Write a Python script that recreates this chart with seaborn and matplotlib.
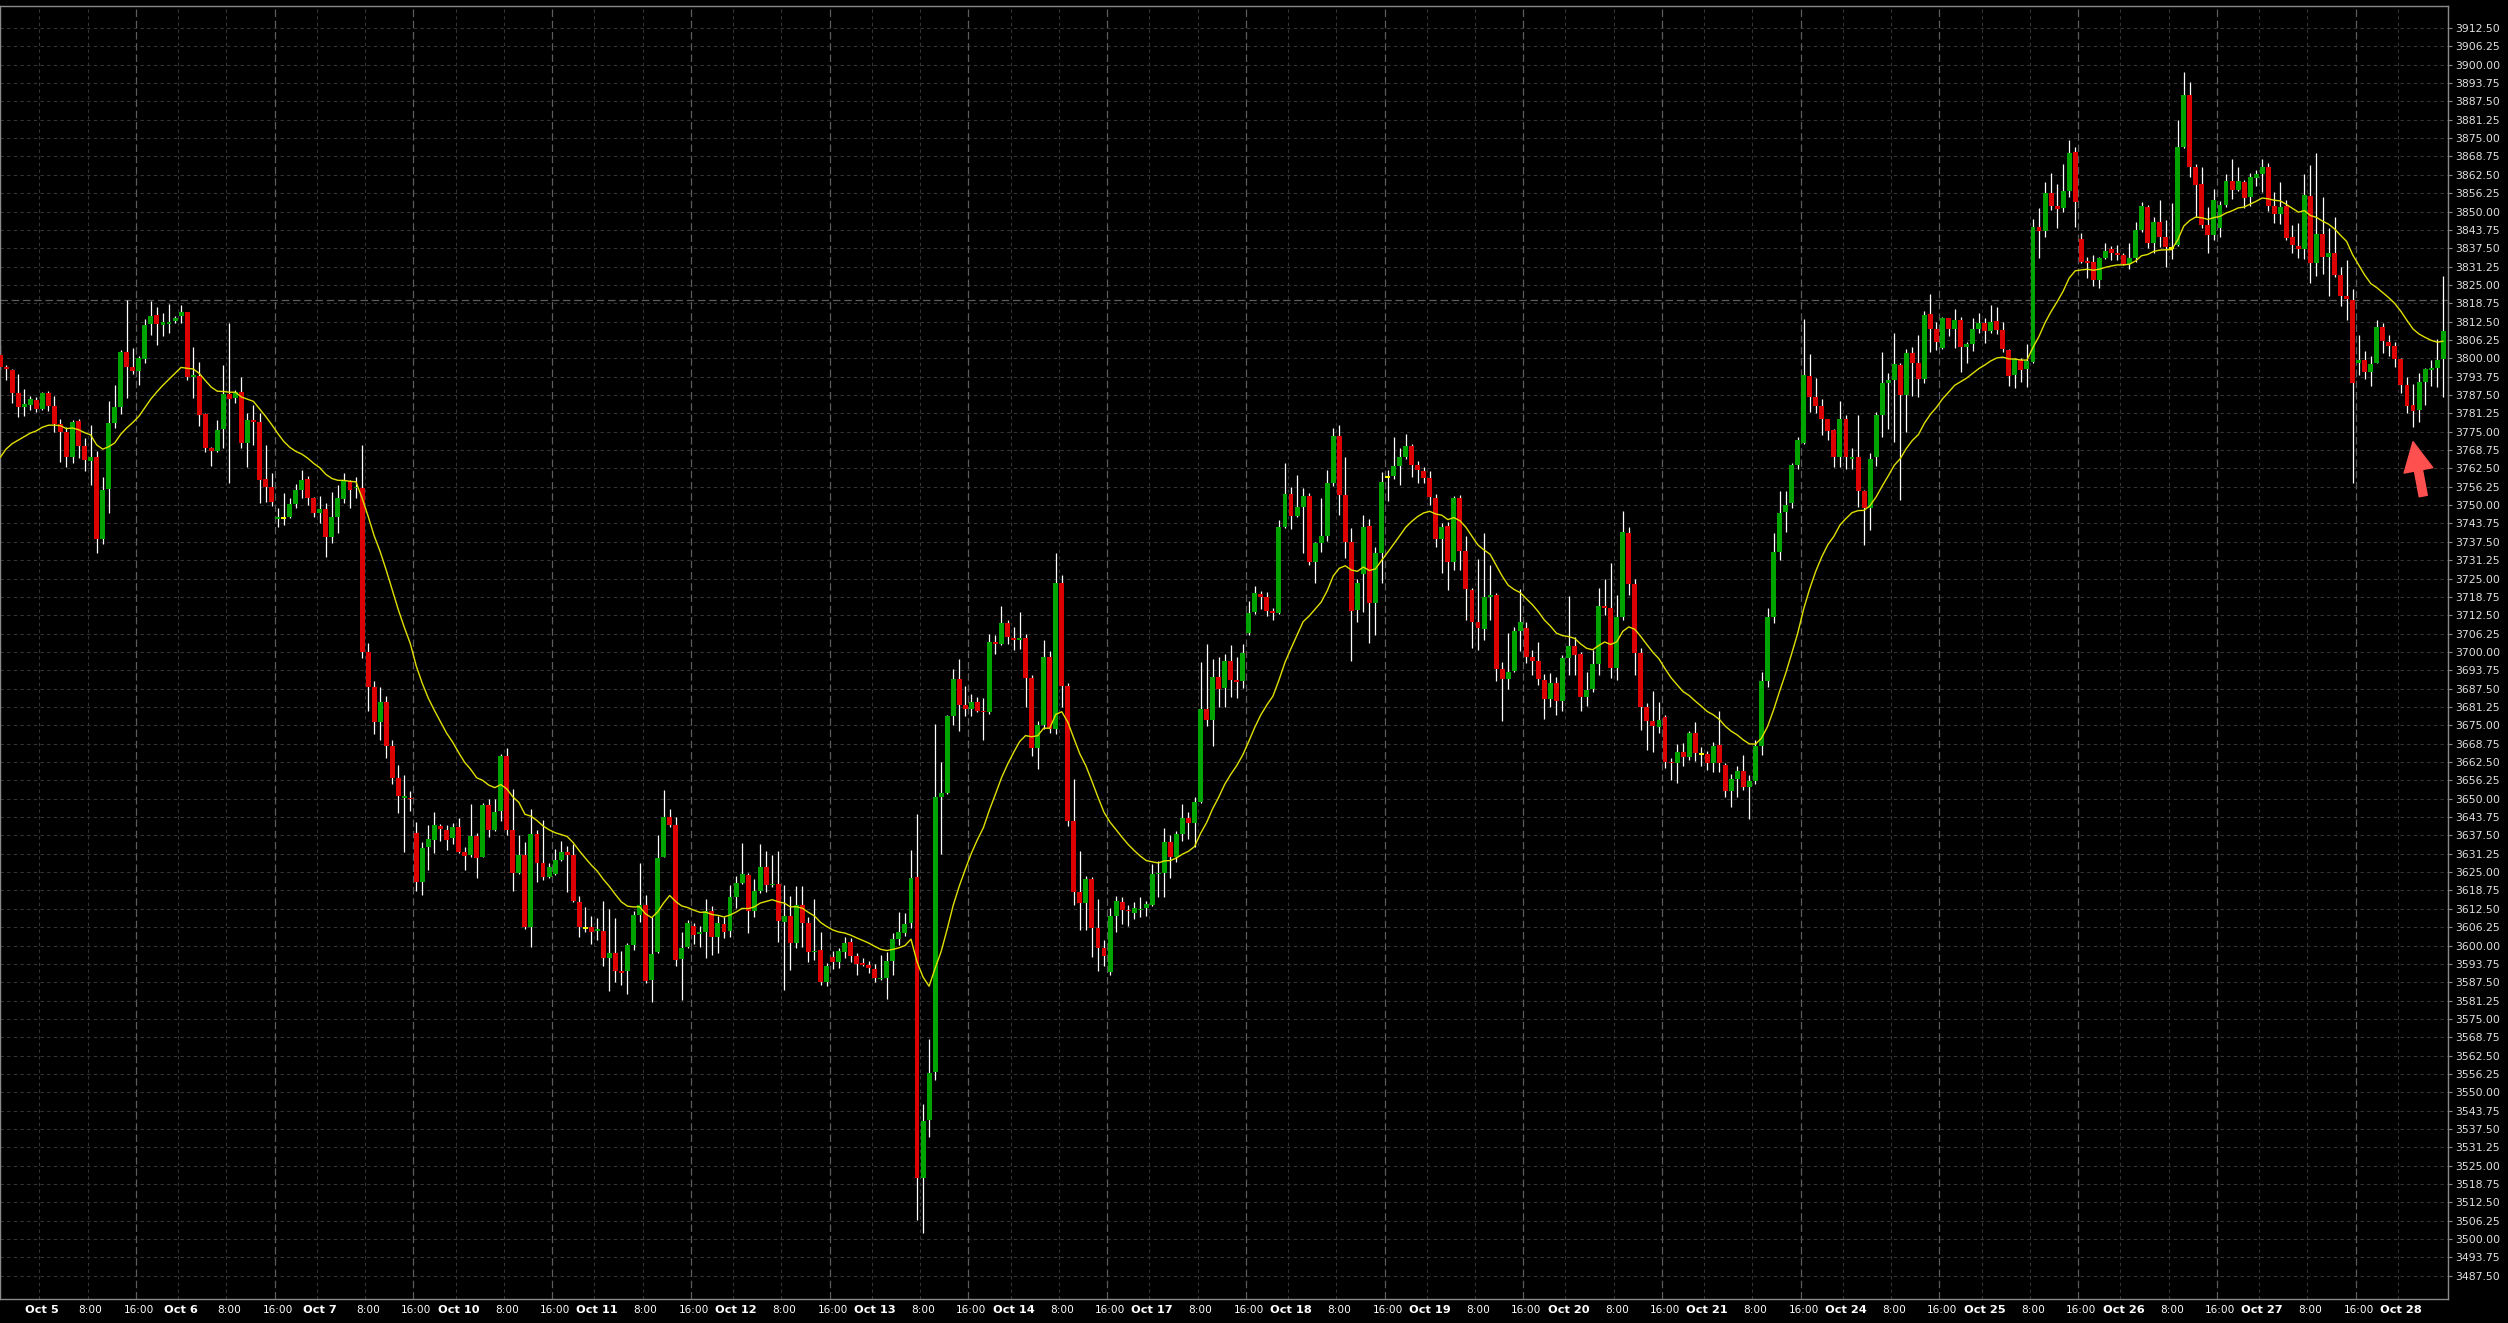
import numpy as np
import pandas as pd
import matplotlib
matplotlib.use("Agg")
import matplotlib.pyplot as plt
import seaborn as sns

# hourly bars, Oct 4 (evening) .. Oct 28 07:00
days = ["Oct 5", "Oct 6", "Oct 7", "Oct 10", "Oct 11", "Oct 12", "Oct 13", "Oct 14", "Oct 17",
        "Oct 18", "Oct 19", "Oct 20", "Oct 21", "Oct 24", "Oct 25", "Oct 26", "Oct 27", "Oct 28"]
first_midnight_bar = 7
bars_per_day = 23

opens = [
    3801.1, 3796.9, 3796.0, 3788.3, 3783.5, 3784.1, 3785.8, 3782.7, 3788.2, 3783.8,
    3777.6, 3775.0, 3766.5, 3778.6, 3770.2, 3765.1, 3766.5, 3738.3, 3755.6, 3777.8,
    3783.5, 3802.3, 3796.9, 3795.7, 3799.8, 3811.6, 3814.7, 3811.5, 3811.8, 3812.8,
    3814.5, 3815.8, 3793.6, 3793.9, 3781.0, 3769.6, 3768.5, 3775.9, 3787.8, 3786.4,
    3788.4, 3771.0, 3779.0, 3778.3, 3758.8, 3756.3, 3745.4, 3745.6, 3745.8, 3750.4,
    3755.1, 3758.9, 3752.5, 3747.2, 3748.7, 3739.2, 3745.8, 3752.1, 3758.2, 3755.8,
    3755.8, 3700.0, 3688.0, 3676.0, 3683.0, 3668.0, 3657.0, 3650.4, 3650.4, 3638.4,
    3621.6, 3633.7, 3636.1, 3640.6, 3639.4, 3636.5, 3640.2, 3631.9, 3630.9, 3637.4,
    3630.3, 3647.7, 3639.4, 3645.8, 3664.7, 3639.4, 3624.7, 3630.9, 3606.3, 3638.0,
    3628.2, 3623.2, 3624.3, 3629.1, 3631.8, 3630.9, 3614.8, 3606.1, 3606.3, 3605.1,
    3604.9, 3595.8, 3597.3, 3591.2, 3591.2, 3600.1, 3610.4, 3613.9, 3588.1, 3597.8,
    3630.0, 3643.9, 3641.1, 3595.3, 3599.5, 3606.5, 3604.0, 3604.5, 3611.9, 3603.0,
    3607.3, 3604.9, 3616.4, 3621.2, 3624.1, 3611.9, 3618.5, 3626.9, 3620.6, 3621.0,
    3608.0, 3610.2, 3600.9, 3613.9, 3607.7, 3597.8, 3598.6, 3587.5, 3596.2, 3594.3,
    3597.8, 3601.3, 3596.5, 3594.0, 3593.5, 3592.1, 3588.5, 3589.0, 3594.6, 3602.2,
    3604.2, 3607.6, 3623.4, 3520.7, 3540.6, 3557.0, 3650.7, 3651.9, 3678.2, 3690.8,
    3682.0, 3680.5, 3683.0, 3679.8, 3679.4, 3703.4, 3702.8, 3709.9, 3704.9, 3704.0,
    3704.6, 3691.2, 3667.2, 3675.0, 3698.3, 3673.8, 3723.5, 3688.3, 3642.3, 3618.3,
    3614.5, 3622.7, 3606.1, 3599.2, 3591.0, 3610.1, 3614.8, 3612.0, 3611.1, 3612.1,
    3612.7, 3613.9, 3624.3, 3624.6, 3635.3, 3630.3, 3638.1, 3643.5, 3641.6, 3648.8,
    3680.7, 3676.7, 3691.4, 3687.6, 3696.8, 3690.5, 3690.1, 3706.5, 3713.5, 3719.8,
    3718.8, 3714.1, 3713.2, 3742.4, 3753.8, 3746.2, 3749.2, 3753.1, 3730.7, 3737.0,
    3739.5, 3757.6, 3773.7, 3753.4, 3737.5, 3714.3, 3726.5, 3742.9, 3716.6, 3733.8,
    3759.7, 3759.9, 3763.4, 3766.5, 3770.1, 3763.7, 3761.7, 3759.1, 3752.3, 3738.4,
    3742.9, 3730.7, 3752.3, 3734.5, 3721.1, 3710.3, 3707.8, 3718.8, 3719.4, 3694.1,
    3690.8, 3693.6, 3707.2, 3708.0, 3698.2, 3697.0, 3690.4, 3683.8, 3689.3, 3683.4,
    3697.8, 3702.0, 3699.3, 3684.8, 3687.3, 3695.9, 3715.6, 3715.1, 3694.4, 3711.8,
    3740.6, 3723.1, 3699.7, 3681.4, 3676.6, 3674.5, 3677.9, 3662.6, 3662.3, 3666.0,
    3664.3, 3672.5, 3665.1, 3665.2, 3662.3, 3668.3, 3661.5, 3652.6, 3656.6, 3659.5,
    3653.9, 3656.0, 3668.0, 3690.0, 3712.0, 3734.1, 3747.8, 3750.6, 3763.7, 3771.3,
    3794.0, 3786.7, 3783.7, 3779.2, 3775.6, 3766.5, 3779.2, 3765.6, 3766.3, 3754.9,
    3748.9, 3766.3, 3780.7, 3791.5, 3792.6, 3797.7, 3787.5, 3801.9, 3798.3, 3792.8,
    3815.1, 3809.9, 3803.4, 3813.6, 3809.9, 3813.0, 3804.0, 3804.9, 3809.9, 3811.9,
    3809.4, 3812.7, 3809.6, 3802.8, 3794.3, 3799.4, 3796.2, 3798.9, 3844.6, 3843.5,
    3856.2, 3851.9, 3851.3, 3857.0, 3870.2, 3840.8, 3833.1, 3832.9, 3826.7, 3834.0,
    3837.1, 3836.0, 3835.2, 3832.1, 3834.0, 3843.7, 3851.6, 3839.4, 3846.3, 3841.2,
    3837.5, 3838.6, 3871.9, 3889.7, 3865.0, 3859.4, 3845.4, 3842.0, 3844.3, 3852.2,
    3860.5, 3857.3, 3860.2, 3854.8, 3861.5, 3862.8, 3865.0, 3851.9, 3849.2, 3851.9,
    3841.2, 3838.2, 3837.1, 3855.3, 3832.4, 3842.3, 3834.4, 3836.0, 3828.4, 3821.2,
    3819.9, 3798.5, 3799.4, 3795.4, 3798.5, 3810.8, 3805.7, 3804.2, 3799.6, 3790.9,
    3784.1, 3782.4, 3792.0, 3796.0, 3796.6, 3799.8,
]

highs = [
    3804.5, 3797.7, 3796.2, 3794.6, 3789.4, 3787.2, 3786.7, 3788.6, 3788.9, 3787.2,
    3779.2, 3776.7, 3779.0, 3779.2, 3772.7, 3777.3, 3768.5, 3759.5, 3785.6, 3790.9,
    3802.8, 3819.9, 3803.4, 3800.8, 3813.4, 3819.5, 3817.6, 3815.3, 3818.5, 3814.4,
    3818.2, 3815.8, 3804.0, 3798.9, 3781.5, 3769.9, 3779.0, 3797.7, 3811.9, 3789.2,
    3793.7, 3781.3, 3784.1, 3781.3, 3770.4, 3761.0, 3748.9, 3754.0, 3752.3, 3757.2,
    3761.9, 3760.0, 3752.9, 3753.1, 3750.6, 3754.5, 3756.8, 3760.8, 3758.5, 3759.7,
    3770.5, 3703.0, 3690.0, 3688.0, 3685.0, 3670.0, 3661.4, 3658.2, 3652.7, 3642.1,
    3635.3, 3640.9, 3645.4, 3641.5, 3641.1, 3641.8, 3643.3, 3633.4, 3648.3, 3638.4,
    3648.7, 3649.8, 3649.8, 3665.1, 3667.3, 3653.3, 3637.5, 3635.3, 3646.5, 3639.4,
    3642.7, 3628.2, 3632.8, 3635.5, 3634.0, 3634.7, 3616.9, 3613.2, 3610.1, 3609.2,
    3615.0, 3612.6, 3609.2, 3598.0, 3600.8, 3611.7, 3628.1, 3617.3, 3609.6, 3637.8,
    3652.9, 3646.4, 3643.7, 3604.5, 3608.6, 3607.7, 3606.5, 3615.8, 3613.6, 3610.2,
    3609.6, 3620.6, 3623.8, 3634.9, 3624.7, 3622.6, 3634.7, 3632.2, 3630.9, 3632.2,
    3620.6, 3616.9, 3620.4, 3620.4, 3609.8, 3615.7, 3604.5, 3594.1, 3598.0, 3599.3,
    3603.0, 3602.6, 3597.5, 3595.6, 3594.8, 3593.8, 3596.9, 3597.9, 3604.1, 3611.4,
    3611.1, 3632.6, 3644.8, 3546.0, 3568.0, 3675.4, 3662.4, 3678.5, 3694.3, 3697.7,
    3688.5, 3685.7, 3684.7, 3684.2, 3706.2, 3705.9, 3715.7, 3710.9, 3708.4, 3713.7,
    3706.2, 3692.0, 3676.3, 3704.0, 3700.2, 3733.6, 3726.3, 3689.3, 3656.8, 3632.2,
    3623.7, 3623.4, 3615.8, 3601.9, 3612.9, 3616.7, 3616.4, 3613.9, 3614.9, 3616.4,
    3615.2, 3627.8, 3628.8, 3640.0, 3637.6, 3639.1, 3648.3, 3645.4, 3650.5, 3696.5,
    3702.8, 3697.7, 3698.3, 3699.3, 3702.5, 3698.3, 3702.8, 3717.2, 3722.3, 3720.8,
    3720.4, 3715.0, 3745.0, 3764.5, 3756.3, 3760.1, 3755.7, 3754.2, 3737.6, 3752.3,
    3761.9, 3776.2, 3777.3, 3766.5, 3742.1, 3724.7, 3746.6, 3745.2, 3735.8, 3761.4,
    3762.0, 3773.1, 3769.3, 3774.2, 3770.8, 3765.1, 3763.1, 3761.7, 3753.8, 3743.8,
    3744.4, 3753.1, 3753.4, 3739.5, 3721.6, 3731.5, 3740.6, 3729.6, 3720.2, 3696.7,
    3706.3, 3708.6, 3721.3, 3710.3, 3700.7, 3703.5, 3692.5, 3692.7, 3691.6, 3698.9,
    3719.0, 3705.0, 3700.1, 3693.3, 3700.7, 3721.7, 3724.9, 3730.2, 3719.4, 3748.1,
    3742.7, 3724.7, 3701.2, 3682.5, 3686.8, 3683.1, 3678.5, 3663.8, 3668.6, 3669.1,
    3673.2, 3676.2, 3667.5, 3666.4, 3669.4, 3680.0, 3662.3, 3658.4, 3661.1, 3664.9,
    3658.0, 3670.0, 3693.0, 3715.0, 3740.4, 3754.9, 3754.9, 3764.2, 3773.3, 3813.3,
    3801.5, 3793.2, 3786.0, 3779.2, 3775.8, 3785.6, 3780.7, 3769.3, 3780.7, 3755.1,
    3767.6, 3781.8, 3802.3, 3794.9, 3808.5, 3798.5, 3803.1, 3803.7, 3807.9, 3816.2,
    3821.9, 3812.5, 3814.2, 3813.9, 3816.7, 3814.2, 3805.7, 3813.9, 3815.3, 3813.9,
    3818.2, 3817.4, 3812.5, 3803.1, 3800.0, 3800.0, 3804.9, 3847.3, 3851.1, 3860.2,
    3863.2, 3859.4, 3866.2, 3874.4, 3871.9, 3842.6, 3834.6, 3835.2, 3834.6, 3839.4,
    3838.2, 3838.6, 3836.0, 3839.2, 3846.5, 3853.4, 3852.2, 3848.2, 3853.9, 3847.1,
    3852.8, 3881.2, 3897.6, 3894.2, 3866.2, 3865.0, 3851.6, 3857.5, 3853.7, 3862.8,
    3867.8, 3865.0, 3860.9, 3863.0, 3864.1, 3867.8, 3866.6, 3856.8, 3860.2, 3853.9,
    3845.4, 3846.2, 3862.8, 3865.8, 3870.0, 3855.1, 3844.3, 3848.2, 3831.2, 3833.5,
    3823.5, 3807.9, 3802.5, 3800.8, 3813.0, 3811.9, 3807.9, 3805.7, 3800.0, 3793.7,
    3791.2, 3795.1, 3796.6, 3799.4, 3806.5, 3828.0,
]

lows = [
    3796.0, 3792.6, 3784.9, 3780.1, 3780.3, 3782.4, 3781.8, 3782.4, 3782.2, 3775.0,
    3764.8, 3763.1, 3764.2, 3765.9, 3761.7, 3756.8, 3733.8, 3736.8, 3747.2, 3776.1,
    3781.0, 3786.4, 3794.7, 3790.9, 3798.3, 3807.9, 3804.5, 3807.6, 3808.5, 3811.9,
    3811.9, 3792.6, 3786.6, 3777.0, 3768.2, 3763.4, 3768.2, 3769.6, 3757.6, 3784.7,
    3769.3, 3763.1, 3770.5, 3750.6, 3751.2, 3749.7, 3742.4, 3743.2, 3745.5, 3748.9,
    3752.3, 3750.0, 3745.8, 3743.8, 3732.2, 3737.0, 3740.6, 3750.8, 3749.1, 3752.3,
    3698.0, 3680.0, 3672.0, 3670.0, 3664.0, 3655.0, 3645.2, 3631.8, 3645.8, 3618.5,
    3617.3, 3625.7, 3631.6, 3635.6, 3632.5, 3634.7, 3631.6, 3625.7, 3630.1, 3623.1,
    3630.1, 3637.1, 3639.0, 3642.5, 3637.8, 3618.5, 3624.5, 3605.5, 3599.5, 3621.6,
    3622.2, 3622.9, 3624.1, 3628.8, 3618.3, 3614.8, 3603.0, 3604.6, 3600.5, 3601.8,
    3593.1, 3584.4, 3587.5, 3586.6, 3583.4, 3598.6, 3608.0, 3587.1, 3580.9, 3597.4,
    3630.1, 3640.3, 3593.1, 3581.3, 3599.3, 3600.5, 3599.5, 3595.8, 3596.8, 3597.4,
    3602.7, 3603.0, 3612.9, 3621.0, 3604.2, 3609.8, 3617.9, 3618.3, 3619.8, 3601.1,
    3585.0, 3591.8, 3599.3, 3599.5, 3594.3, 3594.9, 3586.6, 3586.2, 3592.1, 3592.5,
    3595.8, 3594.4, 3590.0, 3593.1, 3590.6, 3587.7, 3588.1, 3581.8, 3590.0, 3600.1,
    3603.2, 3606.1, 3506.5, 3502.0, 3534.9, 3554.2, 3631.3, 3651.5, 3675.0, 3672.9,
    3678.2, 3678.2, 3679.4, 3670.0, 3678.8, 3699.4, 3702.4, 3702.8, 3700.6, 3700.9,
    3681.3, 3664.6, 3660.2, 3673.8, 3672.5, 3672.1, 3681.3, 3640.6, 3613.9, 3605.4,
    3605.4, 3596.0, 3591.2, 3593.1, 3590.0, 3604.5, 3607.4, 3606.7, 3608.9, 3609.8,
    3609.9, 3613.3, 3616.4, 3616.4, 3623.0, 3628.4, 3635.7, 3636.3, 3633.4, 3648.6,
    3674.7, 3668.1, 3681.3, 3681.3, 3684.7, 3684.2, 3687.6, 3705.9, 3712.8, 3714.5,
    3712.2, 3710.7, 3712.8, 3742.2, 3741.8, 3746.0, 3733.6, 3729.6, 3723.4, 3734.1,
    3737.9, 3756.6, 3746.6, 3731.9, 3697.0, 3710.3, 3713.7, 3703.2, 3705.8, 3723.4,
    3751.5, 3758.8, 3756.9, 3765.6, 3759.5, 3757.6, 3757.6, 3750.0, 3735.8, 3727.0,
    3721.1, 3727.9, 3727.9, 3710.9, 3701.2, 3700.7, 3704.1, 3710.9, 3690.2, 3676.6,
    3687.3, 3693.3, 3700.4, 3696.1, 3692.1, 3688.7, 3677.0, 3681.4, 3678.5, 3680.0,
    3692.1, 3692.1, 3680.0, 3681.6, 3686.5, 3692.1, 3712.6, 3691.0, 3690.4, 3710.9,
    3719.4, 3692.1, 3673.4, 3666.6, 3666.0, 3672.3, 3660.4, 3656.4, 3655.5, 3661.1,
    3663.2, 3663.0, 3661.1, 3659.8, 3659.2, 3659.2, 3650.7, 3647.1, 3650.7, 3653.0,
    3643.0, 3655.0, 3665.0, 3688.0, 3710.0, 3731.3, 3740.9, 3748.9, 3762.2, 3770.8,
    3781.8, 3781.3, 3773.9, 3772.2, 3763.1, 3762.9, 3762.2, 3762.2, 3749.5, 3736.4,
    3741.5, 3763.3, 3773.3, 3775.8, 3771.6, 3751.7, 3775.0, 3787.2, 3786.9, 3791.5,
    3802.3, 3802.8, 3803.1, 3807.6, 3803.4, 3795.5, 3798.3, 3802.6, 3808.5, 3805.3,
    3808.5, 3808.3, 3802.3, 3790.6, 3789.8, 3792.0, 3790.1, 3798.5, 3834.0, 3841.4,
    3850.5, 3844.3, 3849.9, 3854.8, 3844.8, 3832.3, 3827.2, 3824.6, 3823.8, 3833.7,
    3833.5, 3833.5, 3831.8, 3830.3, 3832.9, 3843.1, 3837.5, 3835.8, 3838.0, 3831.2,
    3833.7, 3838.2, 3871.5, 3861.9, 3848.2, 3844.3, 3836.0, 3840.3, 3841.4, 3851.6,
    3854.1, 3857.1, 3851.1, 3852.0, 3858.7, 3856.8, 3850.3, 3846.0, 3845.7, 3840.3,
    3835.8, 3834.1, 3833.7, 3825.5, 3828.0, 3828.7, 3821.2, 3827.6, 3817.8, 3813.0,
    3757.4, 3794.3, 3792.8, 3790.6, 3798.3, 3801.9, 3800.8, 3797.1, 3788.3, 3781.3,
    3776.7, 3778.4, 3784.1, 3790.6, 3790.4, 3786.9,
]

closes = [
    3796.9, 3796.4, 3788.3, 3783.5, 3784.4, 3786.1, 3782.7, 3788.2, 3783.8, 3777.6,
    3775.0, 3766.5, 3778.4, 3770.2, 3765.3, 3766.5, 3738.3, 3755.1, 3777.8, 3783.5,
    3802.3, 3796.9, 3795.7, 3800.0, 3811.3, 3814.5, 3811.7, 3812.2, 3812.4, 3813.9,
    3815.9, 3793.7, 3794.2, 3780.7, 3769.6, 3768.5, 3775.6, 3787.8, 3786.1, 3788.4,
    3771.3, 3779.0, 3778.3, 3758.5, 3756.3, 3751.2, 3746.1, 3745.6, 3750.4, 3755.1,
    3758.5, 3752.5, 3747.2, 3748.7, 3739.2, 3745.8, 3752.4, 3758.2, 3755.1, 3756.3,
    3700.0, 3688.0, 3676.0, 3683.0, 3668.0, 3657.0, 3650.8, 3651.0, 3650.0, 3621.6,
    3633.2, 3636.3, 3641.1, 3639.6, 3636.1, 3640.2, 3631.9, 3630.6, 3637.4, 3629.7,
    3647.7, 3639.4, 3645.5, 3664.7, 3639.4, 3624.7, 3630.9, 3606.3, 3638.0, 3628.2,
    3623.5, 3626.9, 3629.1, 3631.8, 3630.9, 3615.0, 3606.3, 3606.1, 3604.6, 3605.7,
    3595.8, 3597.3, 3591.2, 3590.6, 3600.1, 3610.4, 3613.9, 3587.8, 3597.2, 3629.7,
    3643.9, 3641.1, 3595.2, 3599.3, 3607.7, 3603.6, 3604.5, 3611.7, 3603.0, 3607.6,
    3604.6, 3616.4, 3621.2, 3624.4, 3611.9, 3618.5, 3626.9, 3620.6, 3621.0, 3608.3,
    3610.1, 3600.9, 3613.9, 3607.7, 3597.8, 3598.3, 3587.5, 3593.1, 3594.3, 3598.0,
    3600.8, 3596.5, 3593.8, 3593.5, 3592.2, 3589.0, 3589.0, 3594.6, 3602.2, 3604.5,
    3607.2, 3623.0, 3520.7, 3540.2, 3556.5, 3650.5, 3651.9, 3678.2, 3690.8, 3682.0,
    3680.5, 3683.0, 3679.8, 3679.4, 3703.4, 3702.8, 3709.9, 3705.0, 3704.0, 3704.9,
    3691.2, 3667.2, 3675.0, 3698.3, 3673.8, 3723.5, 3688.3, 3642.3, 3618.3, 3614.5,
    3622.7, 3606.1, 3599.2, 3596.3, 3610.1, 3615.2, 3612.0, 3611.6, 3612.7, 3612.6,
    3614.3, 3624.3, 3624.6, 3635.3, 3630.1, 3638.1, 3643.5, 3641.6, 3648.8, 3680.7,
    3676.7, 3691.4, 3687.4, 3696.8, 3690.5, 3689.9, 3699.6, 3713.2, 3720.1, 3718.8,
    3714.1, 3713.2, 3742.4, 3753.8, 3746.2, 3749.4, 3753.1, 3730.7, 3737.0, 3739.5,
    3757.6, 3773.7, 3753.4, 3737.5, 3714.0, 3723.4, 3742.7, 3716.6, 3733.6, 3758.0,
    3759.7, 3763.4, 3766.5, 3770.1, 3763.7, 3762.0, 3759.1, 3752.9, 3738.4, 3742.7,
    3730.7, 3752.3, 3734.5, 3721.3, 3710.3, 3708.0, 3718.8, 3719.4, 3694.1, 3690.8,
    3693.0, 3707.2, 3710.3, 3698.4, 3697.0, 3690.8, 3683.8, 3689.3, 3683.4, 3697.8,
    3702.0, 3699.0, 3684.8, 3687.0, 3695.9, 3715.6, 3715.1, 3694.4, 3712.0, 3740.9,
    3723.1, 3699.7, 3681.4, 3676.6, 3674.9, 3676.8, 3662.4, 3662.0, 3666.0, 3664.3,
    3672.5, 3665.5, 3665.1, 3662.3, 3668.0, 3662.0, 3652.6, 3656.6, 3659.5, 3653.9,
    3656.0, 3668.0, 3690.0, 3712.0, 3734.1, 3747.4, 3750.0, 3763.7, 3772.2, 3794.3,
    3786.7, 3783.9, 3779.2, 3775.4, 3766.5, 3779.5, 3766.5, 3766.3, 3754.9, 3748.9,
    3765.6, 3780.7, 3791.5, 3792.6, 3798.1, 3787.5, 3801.9, 3798.3, 3792.8, 3814.7,
    3809.9, 3805.7, 3813.6, 3809.9, 3813.0, 3804.0, 3804.9, 3809.9, 3811.9, 3809.4,
    3812.5, 3809.6, 3803.1, 3794.0, 3799.6, 3796.0, 3799.2, 3844.6, 3843.5, 3856.2,
    3851.9, 3851.0, 3857.0, 3869.8, 3853.4, 3832.9, 3832.6, 3826.7, 3834.0, 3836.7,
    3836.0, 3835.2, 3832.1, 3834.0, 3843.7, 3851.9, 3839.4, 3846.3, 3841.2, 3838.0,
    3837.5, 3871.9, 3889.7, 3865.3, 3859.0, 3845.4, 3842.0, 3853.9, 3852.2, 3860.5,
    3857.3, 3860.5, 3854.5, 3861.9, 3862.8, 3865.0, 3851.9, 3849.2, 3851.4, 3841.1,
    3838.6, 3837.1, 3855.6, 3832.4, 3842.3, 3834.4, 3836.0, 3828.4, 3821.2, 3820.1,
    3791.7, 3799.4, 3795.4, 3798.1, 3810.8, 3806.0, 3804.2, 3799.6, 3790.9, 3783.8,
    3782.2, 3792.0, 3796.3, 3796.6, 3799.4, 3809.3,
]

ma_seed = 3763.0        # moving average value just before the first visible bar
ma_span = 20
ref_level = 3819.86     # dashed horizontal level
price_ticks = np.arange(3487.5, 3912.51, 6.25)

df = pd.DataFrame({"open": opens, "high": highs, "low": lows, "close": closes})
df["bar"] = np.arange(len(df))
df["high"] = df[["high", "open", "close"]].max(axis=1)
df["low"] = df[["low", "open", "close"]].min(axis=1)
seeded = pd.concat([pd.Series([ma_seed]), df["close"]], ignore_index=True)
df["ma"] = seeded.ewm(span=ma_span, adjust=False).mean().iloc[1:].values

# x ticks: day label at midnight bar, then 8:00 and 16:00
tick_pos, tick_lab, tick_bold = [], [], []
for d, name in enumerate(days):
    m = first_midnight_bar + bars_per_day * d
    for off, lab, bold in [(0, name, True), (8, "8:00", False), (16, "16:00", False)]:
        if m + off < len(df):
            tick_pos.append(m + off)
            tick_lab.append(lab)
            tick_bold.append(bold)

sns.set_theme(style="dark", rc={"axes.facecolor": "black", "figure.facecolor": "black",
                                "axes.edgecolor": "#8a8a8a"})
plt.rcParams["font.family"] = ["DejaVu Sans"]

fig = plt.figure(figsize=(25.08, 13.23), dpi=100)
ax = fig.add_axes([0.0, 24 / 1323, 2448 / 2508, 1293 / 1323])
ax.set_facecolor("black")

# grid
for p in price_ticks:
    ax.axhline(p, color="#353535", lw=0.8, ls=(0, (3, 3)), zorder=0)
for p, lab in zip(tick_pos, tick_lab):
    if lab == "16:00":
        ax.axvline(p - 0.5, color="#5c5c5c", lw=0.9, ls=(0, (6, 3)), zorder=0)
    else:
        ax.axvline(p - 0.5, color="#353535", lw=0.8, ls=(0, (3, 3)), zorder=0)
ax.axhline(ref_level, color="#5c5c5c", lw=0.9, ls=(0, (6, 3)), zorder=0)

# candles
up = df[df["close"] > df["open"]]
down = df[df["close"] < df["open"]]
doji = df[df["close"] == df["open"]]
ax.vlines(df["bar"], df["low"], df["high"], colors="white", lw=0.9, zorder=2)
ax.bar(up["bar"], np.maximum(up["close"] - up["open"], 0.4), bottom=up["open"],
       width=0.82, color="#00a400", linewidth=0, zorder=3)
ax.bar(down["bar"], np.maximum(down["open"] - down["close"], 0.4), bottom=down["close"],
       width=0.82, color="#dc0000", linewidth=0, zorder=3)
ax.hlines(doji["close"], doji["bar"] - 0.41, doji["bar"] + 0.41, colors="#ffff00", lw=1.4, zorder=3)

sns.lineplot(data=df, x="bar", y="ma", color="#e0e000", lw=1.0, ax=ax, zorder=4)

# pointer arrow
ax.annotate("", xy=(400.0, 3771.6), xytext=(401.7, 3753.1),
            arrowprops=dict(arrowstyle="simple,head_length=1.5,head_width=1.5,tail_width=0.42",
                            color="#ff5050", mutation_scale=14, shrinkA=0, shrinkB=0),
            zorder=5)

ax.set_xlim(-0.02, 405.8)
ax.set_ylim(3479.6, 3920.0)
ax.set_xlabel("")
ax.set_ylabel("")

ax.set_xticks(tick_pos)
ax.set_xticklabels(tick_lab)
for t, b in zip(ax.get_xticklabels(), tick_bold):
    t.set_fontweight("bold" if b else "normal")
    t.set_fontsize(8.2 if b else 7.6)
    t.set_color("white")
ax.tick_params(axis="x", length=0, pad=4)

ax.yaxis.tick_right()
ax.set_yticks(price_ticks)
ax.set_yticklabels([f"{p:.2f}" for p in price_ticks])
ax.tick_params(axis="y", length=3, width=0.8, color="#8a8a8a", pad=2,
               labelsize=7.8, labelcolor="#e0e0e0")

for s in ax.spines.values():
    s.set_color("#8a8a8a")
    s.set_linewidth(1.0)

fig.savefig("out.png", dpi=100, facecolor="black")
